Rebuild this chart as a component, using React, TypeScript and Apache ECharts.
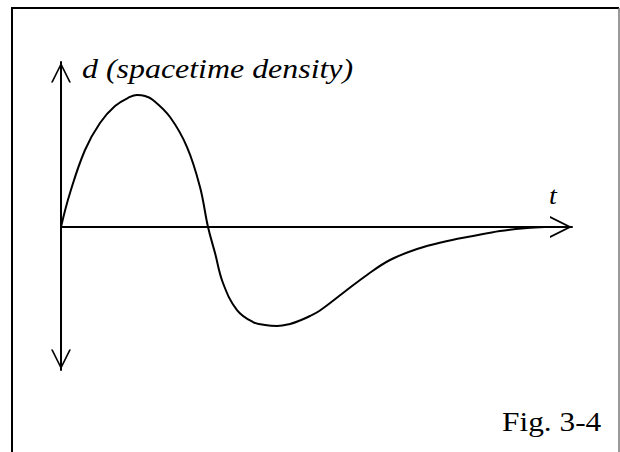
import React, { useEffect, useRef } from "react";
import * as echarts from "echarts";

// t (time) and d (spacetime density) samples
const tValues: number[] = [
  0, 0.176, 0.47, 0.763, 1.057, 1.35, 1.487, 1.644, 1.8, 2.133, 2.466, 2.72,
  2.877, 3.014, 3.17, 3.444, 3.757, 3.992, 4.227, 4.481, 4.677, 4.873, 5.068,
  5.519, 5.988, 6.438, 6.967, 7.476, 8.063, 8.591, 9.119, 9.472,
];
const dValues: number[] = [
  0, 0.309, 0.7, 0.945, 1.1, 1.182, 1.2, 1.191, 1.155, 1.0, 0.727, 0.364,
  0, -0.236, -0.509, -0.755, -0.864, -0.891, -0.9, -0.882, -0.85, -0.809,
  -0.759, -0.6, -0.436, -0.3, -0.2, -0.136, -0.082, -0.036, -0.009, 0,
];

const yLabel = "d (spacetime density)";
const xLabel = "t";
const figLabel = "Fig. 3-4";

const SERIF = "Liberation Serif";
const CHEVRON = "path://M50,0 L100,100 L91,100 L50,18 L9,100 L0,100 Z";

export default function App() {
  const ref = useRef<HTMLDivElement>(null);
  useEffect(() => {
    if (!ref.current) return;
    const chart = echarts.init(ref.current, null, { renderer: "svg" });
    const data = tValues.map((t, i) => [t, dValues[i]]);
    chart.setOption({
      animation: false,
      backgroundColor: "#ffffff",
      grid: { left: 61, top: 62, width: 511, height: 308, outerBoundsMode: "none" },
      xAxis: {
        type: "value",
        min: 0,
        max: 10,
        axisLine: {
          show: true,
          onZero: true,
          lineStyle: { color: "#000", width: 2 },
          symbol: ["none", CHEVRON],
          symbolSize: [22, 22],
          symbolOffset: [0, -11],
        },
        axisTick: { show: false },
        axisLabel: { show: false },
        splitLine: { show: false },
      },
      yAxis: {
        type: "value",
        min: -1.3,
        max: 1.5,
        axisLine: {
          show: true,
          onZero: true,
          lineStyle: { color: "#000", width: 2 },
          symbol: [CHEVRON, CHEVRON],
          symbolSize: [20, 21],
          symbolOffset: [10.5, -10.5],
        },
        axisTick: { show: false },
        axisLabel: { show: false },
        splitLine: { show: false },
      },
      series: [
        {
          type: "line",
          data,
          smooth: 0.4,
          showSymbol: false,
          symbol: "none",
          lineStyle: { color: "#000", width: 2 },
          z: 3,
        },
      ],
      graphic: [
        {
          type: "polyline",
          shape: { points: [[12, 452], [12, 8], [619, 8]] },
          style: { stroke: "#000", lineWidth: 2, fill: "none" },
        },
        {
          type: "line",
          shape: { x1: 619, y1: 8, x2: 619, y2: 452 },
          style: { stroke: "#777", lineWidth: 1.5 },
        },
        {
          type: "text",
          x: 82,
          y: 68,
          scaleX: 1.14,
          style: {
            text: yLabel,
            fontFamily: SERIF,
            fontStyle: "italic",
            fontSize: 28,
            fill: "#000",
            textAlign: "left",
            textVerticalAlign: "middle",
          },
        },
        {
          type: "text",
          x: 553,
          y: 196,
          scaleX: 1.12,
          style: {
            text: xLabel,
            fontFamily: SERIF,
            fontStyle: "italic",
            fontSize: 25,
            fill: "#000",
            textAlign: "center",
            textVerticalAlign: "middle",
          },
        },
        {
          type: "text",
          x: 502,
          y: 422,
          scaleX: 1.12,
          style: {
            text: figLabel,
            fontFamily: SERIF,
            fontSize: 28,
            fill: "#000",
            textAlign: "left",
            textVerticalAlign: "middle",
          },
        },
      ],
    });
    return () => chart.dispose();
  }, []);
  return (
    <div
      ref={ref}
      style={{ position: "fixed", left: 0, top: 0, width: 620, height: 452 }}
    />
  );
}
